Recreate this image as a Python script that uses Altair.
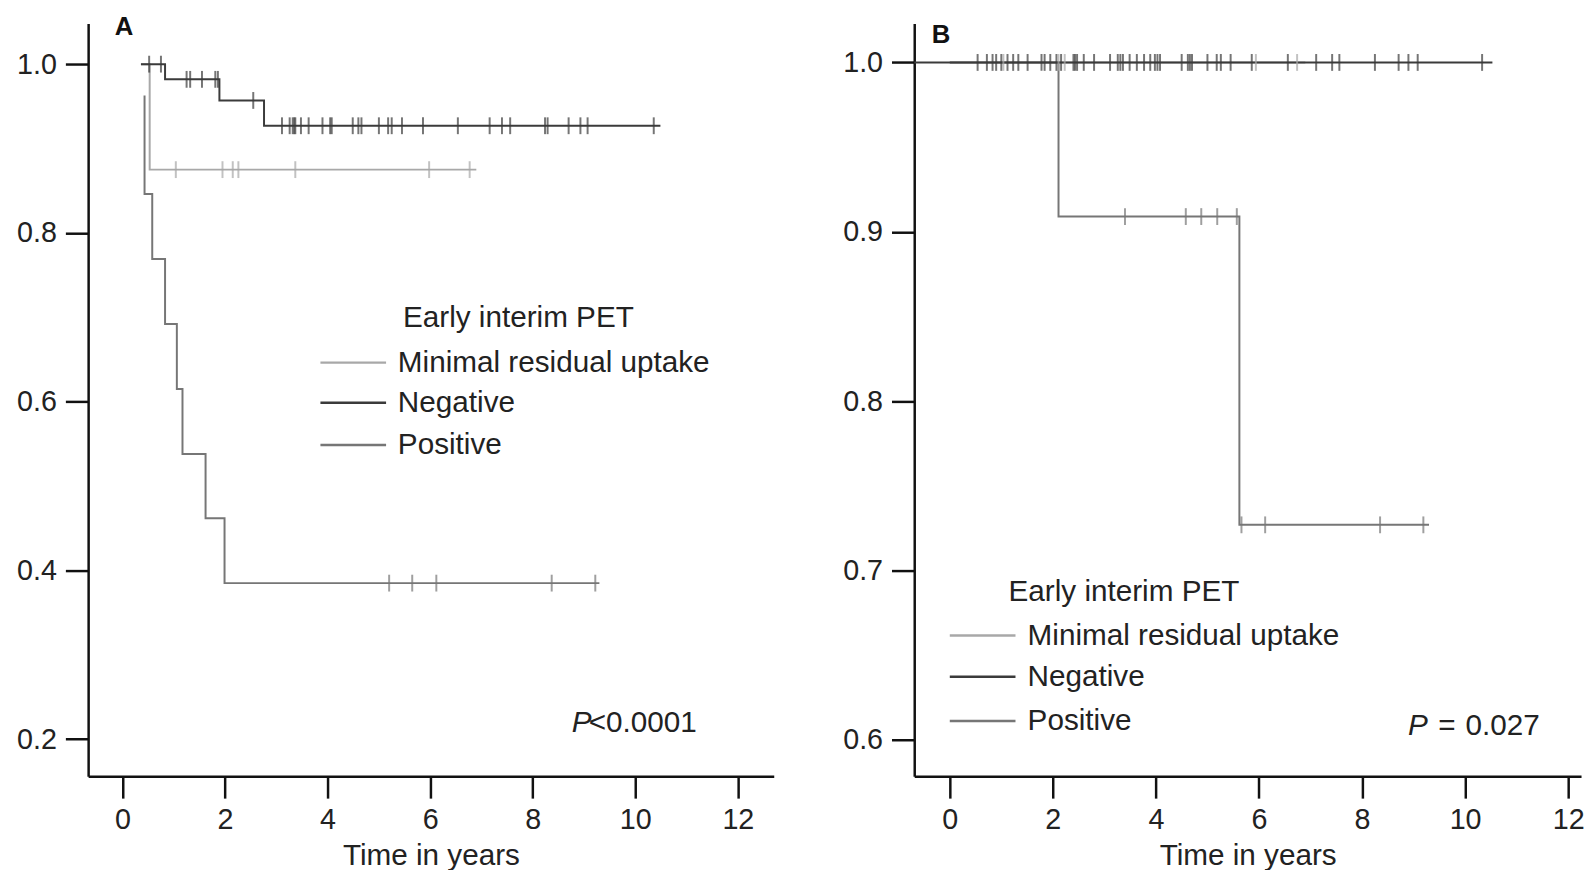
import altair as alt
import pandas as pd

FONT = "Liberation Sans"
TXT = "#222222"

# ---------------- data ----------------
groups = ["Minimal residual uptake", "Negative", "Positive"]
group_colors = ["#a8a8a8", "#3b3b3b", "#767676"]

# Panel A : step curves (time in years, survival)
a_min_t = [0.36, 0.53, 6.90]
a_min_s = [1.0, 0.875, 0.875]
a_min_cens = [1.04, 1.95, 2.15, 2.26, 3.37, 5.98, 6.77]

a_neg_t = [0.36, 0.83, 1.89, 2.76, 10.49]
a_neg_s = [1.0, 0.982, 0.957, 0.927, 0.927]
a_neg_cens = [0.52, 0.75, 1.25, 1.32, 1.55, 1.81, 1.86, 2.55,
              3.11, 3.26, 3.32, 3.35, 3.37, 3.48, 3.63, 3.90, 4.05, 4.08,
              4.49, 4.60, 4.66, 5.00, 5.18, 5.25, 5.45, 5.86, 6.54, 7.16,
              7.40, 7.56, 8.24, 8.29, 8.70, 8.93, 9.07, 10.36]

a_pos_t = [0.43, 0.43, 0.58, 0.83, 1.06, 1.17, 1.62, 1.99, 9.30]
a_pos_s = [0.963, 0.846, 0.769, 0.692, 0.615, 0.538, 0.462, 0.385, 0.385]
a_pos_cens = [5.20, 5.65, 6.12, 8.37, 9.22]

# Panel B
b_min_t = [0.0, 6.90]
b_min_s = [1.0, 1.0]
b_min_cens = [1.04, 2.11, 2.23, 5.94, 6.74]

b_neg_t = [-0.69, 10.53]
b_neg_s = [1.0, 1.0]
b_neg_cens = [0.54, 0.72, 0.83, 0.90, 1.00, 1.12, 1.23, 1.33, 1.51, 1.78,
              1.84, 1.95, 2.07, 2.16, 2.40, 2.43, 2.47, 2.60, 2.80, 3.11,
              3.26, 3.31, 3.36, 3.49, 3.63, 3.77, 3.89, 3.98, 4.03, 4.08,
              4.50, 4.62, 4.66, 4.70, 5.00, 5.18, 5.26, 5.45, 5.86, 6.56,
              7.11, 7.42, 7.56, 8.25, 8.71, 8.90, 9.08, 10.33]

b_pos_t = [0.0, 2.11, 5.62, 9.30]
b_pos_s = [1.0, 0.909, 0.727, 0.727]
b_pos_cens = [3.40, 4.58, 4.88, 5.19, 5.57, 5.66, 6.12, 8.35, 9.19]

x_ticks = [0, 2, 4, 6, 8, 10, 12]
a_y_ticks = [0.2, 0.4, 0.6, 0.8, 1.0]
b_y_ticks = [0.6, 0.7, 0.8, 0.9, 1.0]

legend_title = "Early interim PET"


def surv_at(ts, ss, t):
    val = ss[0]
    for ti, si in zip(ts, ss):
        if ti <= t:
            val = si
    return val


def curve_df(ts, ss, g):
    return pd.DataFrame({"t": ts, "s": ss, "g": g})


def cens_df(ct, ts, ss, g):
    return pd.DataFrame({"t": ct, "s": [surv_at(ts, ss, c) for c in ct], "g": g})


color_scale = alt.Scale(domain=groups, range=group_colors)


def x_axis():
    return alt.Axis(values=x_ticks, title="Time in years", grid=False,
                    domainColor="#111111", domainWidth=2.5, tickColor="#111111",
                    tickWidth=2.5, tickSize=22, labelFont=FONT, labelFontSize=29,
                    labelColor=TXT, labelPadding=8, labelFlush=False,
                    labelOverlap=False, titleFont=FONT, titleFontSize=30,
                    titleFontWeight="normal", titleColor=TXT, titlePadding=6)


def y_axis(vals, ext):
    return alt.Axis(values=vals, format=".1f", title=None, grid=False,
                    domainColor="#111111", domainWidth=2.5, tickColor="#111111",
                    tickWidth=2.5, tickSize=23, labelFont=FONT, labelFontSize=29,
                    labelColor=TXT, labelPadding=9, labelOverlap=False,
                    minExtent=ext, maxExtent=ext)


def panel(curves, cens, xdom, ydom, yvals, yext, leg, ptexts, plabel, width):
    xs = alt.Scale(domain=xdom, nice=False, zero=False)
    ys = alt.Scale(domain=ydom, nice=False, zero=False)
    X = alt.X("t:Q", scale=xs, axis=x_axis())
    Y = alt.Y("s:Q", scale=ys, axis=y_axis(yvals, yext))
    C = alt.Color("g:N", scale=color_scale, legend=None)
    layers = []
    for df in curves:
        layers.append(alt.Chart(df).mark_line(interpolate="step-after", strokeWidth=2)
                      .encode(x=X, y=Y, color=C))
    for df in cens:
        layers.append(alt.Chart(df).mark_tick(orient="vertical", size=17, thickness=2)
                      .encode(x=X, y=Y, color=C))
    # legend (drawn inside the plot)
    lt, ls, rows, lx1, lx2, lxt = leg
    leg_df = pd.DataFrame({"t": [lx1] * 3, "t2": [lx2] * 3, "s": rows, "g": groups})
    layers.append(alt.Chart(leg_df).mark_rule(strokeWidth=2.5)
                  .encode(x=X, x2="t2:Q", y=Y, color=C))
    lab_df = pd.DataFrame({"t": [lxt] * 3, "s": rows, "g": groups})
    layers.append(alt.Chart(lab_df).mark_text(align="left", baseline="middle", font=FONT,
                                              fontSize=30, color=TXT)
                  .encode(x=X, y=Y, text="g:N"))
    tit_df = pd.DataFrame({"t": [lt], "s": [ls], "txt": [legend_title]})
    layers.append(alt.Chart(tit_df).mark_text(align="left", baseline="middle", font=FONT,
                                              fontSize=30, color=TXT)
                  .encode(x=X, y=Y, text="txt:N"))
    # p-value
    (pt, ps), rest = ptexts
    p_df = pd.DataFrame({"t": [pt], "s": [ps], "txt": ["P"]})
    layers.append(alt.Chart(p_df).mark_text(align="left", baseline="middle", font=FONT,
                                            fontSize=30, fontStyle="italic", color=TXT)
                  .encode(x=X, y=Y, text="txt:N"))
    r_df = pd.DataFrame({"t": [r[0] for r in rest], "s": [ps] * len(rest),
                         "txt": [r[1] for r in rest]})
    layers.append(alt.Chart(r_df).mark_text(align="left", baseline="middle", font=FONT,
                                            fontSize=30, color=TXT)
                  .encode(x=X, y=Y, text="txt:N"))
    # panel letter
    lab_t, lab_s, lab_txt = plabel
    pl_df = pd.DataFrame({"t": [lab_t], "s": [lab_s], "txt": [lab_txt]})
    layers.append(alt.Chart(pl_df).mark_text(align="center", baseline="alphabetic",
                                             font=FONT, fontSize=26, fontWeight="bold",
                                             color="#111111")
                  .encode(x=X, y=Y, text="txt:N"))
    return alt.layer(*layers).properties(width=width, height=761)


panel_a = panel(
    curves=[curve_df(a_min_t, a_min_s, groups[0]), curve_df(a_pos_t, a_pos_s, groups[2]),
            curve_df(a_neg_t, a_neg_s, groups[1])],
    cens=[cens_df(a_min_cens, a_min_t, a_min_s, groups[0]),
          cens_df(a_pos_cens, a_pos_t, a_pos_s, groups[2]),
          cens_df(a_neg_cens, a_neg_t, a_neg_s, groups[1])],
    xdom=[-0.67, 12.70], ydom=[0.156, 1.0482], yvals=a_y_ticks, yext=81,
    leg=(5.47, 0.6996, [0.6463, 0.5987, 0.5486], 3.86, 5.14, 5.37),
    ptexts=((8.76, 0.2189), [(9.09, "<0.0001")]),
    plabel=(0.03, 1.034, "A"),
    width=693,
)

panel_b = panel(
    curves=[curve_df(b_min_t, b_min_s, groups[0]), curve_df(b_pos_t, b_pos_s, groups[2]),
            curve_df(b_neg_t, b_neg_s, groups[1])],
    cens=[cens_df(b_neg_cens, b_neg_t, b_neg_s, groups[1]),
          cens_df(b_pos_cens, b_pos_t, b_pos_s, groups[2]),
          cens_df(b_min_cens, b_min_t, b_min_s, groups[0])],
    xdom=[-0.69, 12.25], ydom=[0.5785, 1.0230], yvals=b_y_ticks, yext=75,
    leg=(1.14, 0.6874, [0.6616, 0.6373, 0.6112], 0.0, 1.275, 1.51),
    ptexts=((8.89, 0.6081), [(9.48, "="), (10.01, "0.027")]),
    plabel=(-0.17, 1.0117, "B"),
    width=674,
)

chart = alt.hconcat(panel_a, panel_b, spacing=67).properties(
    padding={"left": 0, "top": 2, "right": 0, "bottom": -5},
    background="white",
).configure_view(strokeWidth=0, stroke="transparent")

chart.save("out.html", embed_options={"renderer": "svg", "actions": False})
